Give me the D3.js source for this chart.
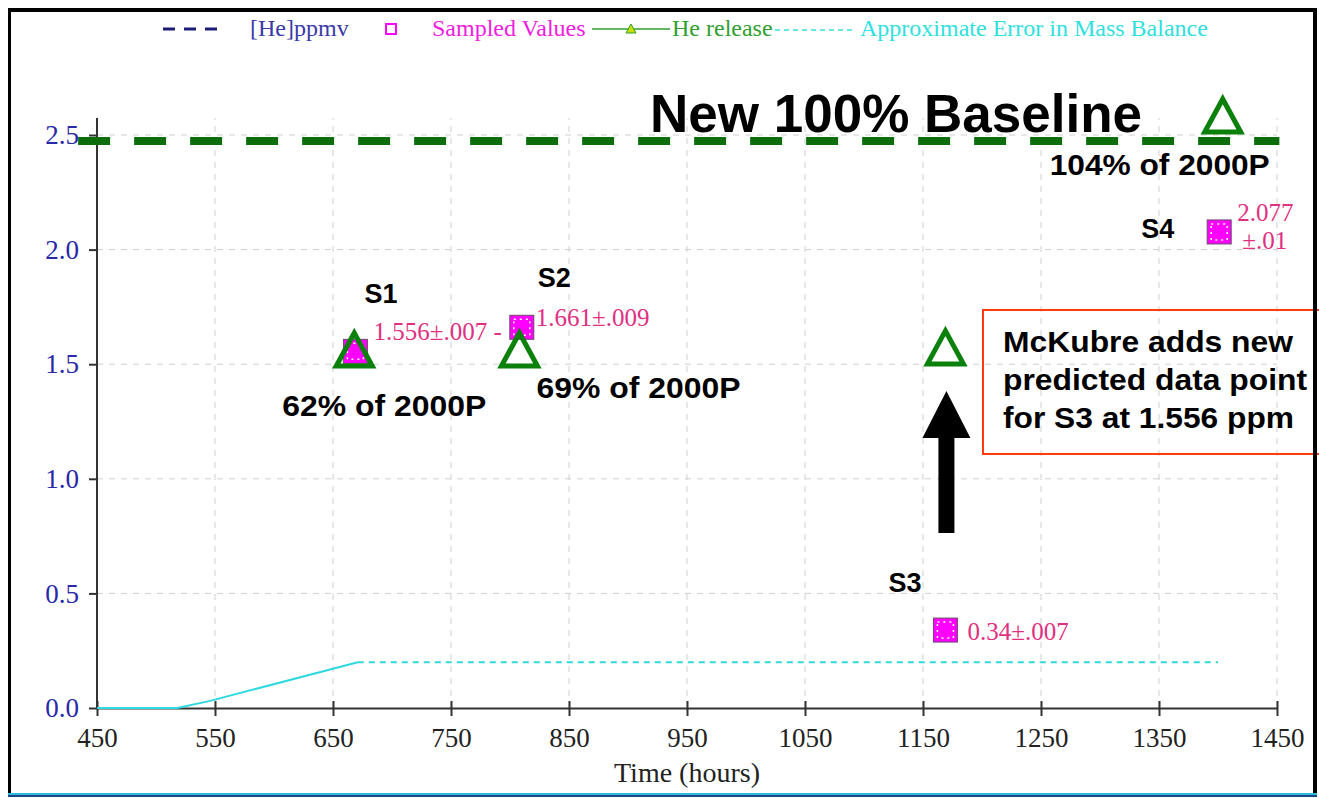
<!DOCTYPE html>
<html><head><meta charset="utf-8">
<script src="https://cdn.jsdelivr.net/npm/d3@7"></script>
<style>body{margin:0;background:#fff;} svg{display:block;}</style>
</head><body>
<svg id="chart" width="1319" height="798"></svg>
<script>
// ---------- data ----------
const xTicks = [450,550,650,750,850,950,1050,1150,1250,1350,1450];
const yTicks = [0,0.5,1.0,1.5,2.0,2.5];
const sampleNames = ["S1","S2","S3","S4"];
const sampleTimes = [669, 810, 1169, 1401];
const sampleValues = [1.556, 1.661, 0.34, 2.077];
const sampleLabels = [["1.556±.007 -"],["1.661±.009"],["0.34±.007"],["2.077","±.01"]];
const releaseTimes = [668, 808, 1169, 1404];
const releaseValues = [1.562, 1.562, 1.571, 2.583];
const releasePercents = ["62% of 2000P","69% of 2000P","","104% of 2000P"];
const errorTimes = [450, 518, 545, 671];
const errorValues = [0, 0, 0.03, 0.2];
const errorDashedTimes = [671, 1400];
const errorDashedValues = [0.2, 0.2];
const baselineValue = 2.474;
const baselineTimes = [434, 1452];
const legendLabels = ["[He]ppmv","Sampled Values","He release","Approximate Error in Mass Balance"];
const xTitle = "Time (hours)";
const baselineTitle = "New 100% Baseline";
const noteLines = ["McKubre adds new","predicted data point","for S3 at 1.556 ppm"];

// ---------- layout ----------
const svg = d3.select("#chart");
const x = d3.scaleLinear().domain([450,1450]).range([97,1277]);
const y = d3.scaleLinear().domain([0,2.5]).range([708,135]);
const serif = "'Liberation Serif','Times New Roman',serif";
const sans = "'Liberation Sans',Arial,sans-serif";

svg.append("rect").attr("width",1319).attr("height",798).attr("fill","#fff");

// grid
const grid = svg.append("g").attr("stroke","#cfcfcf").attr("stroke-width",1).attr("stroke-dasharray","6,6");
grid.selectAll("line.v").data(xTicks.slice(1)).enter().append("line")
  .attr("x1",d=>x(d)).attr("x2",d=>x(d)).attr("y1",y(0)).attr("y2",118);
grid.selectAll("line.h").data(yTicks.slice(1)).enter().append("line")
  .attr("x1",x(450)).attr("x2",x(1450)).attr("y1",d=>y(d)).attr("y2",d=>y(d));

// axes
const xAxis = d3.axisBottom(x).tickValues(xTicks).tickFormat(d3.format("d")).tickSize(8).tickSizeOuter(0).tickPadding(12);
const gx = svg.append("g").attr("transform",`translate(0,${y(0)})`).call(xAxis);
gx.select(".domain").attr("stroke","#333").attr("stroke-width",2);
gx.selectAll(".tick line").attr("stroke","#333").attr("stroke-width",2).attr("y1",-7);
gx.selectAll(".tick text").attr("font-family",serif).attr("font-size",27).attr("fill","#222");

const yAxis = d3.axisLeft(y).tickValues(yTicks).tickFormat(d3.format(".1f")).tickSize(8).tickSizeOuter(0).tickPadding(10);
const gy = svg.append("g").attr("transform",`translate(${x(450)},0)`).call(yAxis);
gy.select(".domain").remove();
gy.append("line").attr("x1",0).attr("x2",0).attr("y1",118).attr("y2",y(0)).attr("stroke","#333").attr("stroke-width",2);
gy.selectAll(".tick line").attr("stroke","#333").attr("stroke-width",2);
gy.selectAll(".tick text").attr("font-family",serif).attr("font-size",27).attr("fill","#2828a8");

svg.append("text").attr("x",(x(450)+x(1450))/2).attr("y",782).attr("text-anchor","middle")
  .attr("font-family",serif).attr("font-size",28).attr("fill","#222").text(xTitle);

// error in mass balance
const line = d3.line().x(d=>x(d[0])).y(d=>y(d[1]));
svg.append("path").datum(d3.zip(errorTimes,errorValues)).attr("d",line)
  .attr("fill","none").attr("stroke","#30d8e0").attr("stroke-width",2);
svg.append("path").datum(d3.zip(errorDashedTimes,errorDashedValues)).attr("d",line)
  .attr("fill","none").attr("stroke","#30d8e0").attr("stroke-width",2).attr("stroke-dasharray","6,5");

// baseline
svg.append("line").attr("x1",x(baselineTimes[0])).attr("x2",x(baselineTimes[1]))
  .attr("y1",y(baselineValue)).attr("y2",y(baselineValue))
  .attr("stroke","#0b6e0b").attr("stroke-width",8).attr("stroke-dasharray","32,24");
svg.append("text").attr("x",650).attr("y",132).attr("font-family",sans).attr("font-weight","bold")
  .attr("font-size",53).attr("fill","#000").text(baselineTitle);

// sampled values
const samples = sampleTimes.map((t,i)=>({t, v:sampleValues[i], name:sampleNames[i], lab:sampleLabels[i]}));
const sq = svg.append("g").selectAll("g").data(samples).enter().append("g")
  .attr("transform",d=>`translate(${x(d.t)},${y(d.v)})`);
sq.append("rect").attr("x",-12).attr("y",-12).attr("width",24).attr("height",24)
  .attr("fill","#ff00ff").attr("stroke","#6a4a6a").attr("stroke-width",1);
sq.append("rect").attr("x",-8).attr("y",-8).attr("width",16).attr("height",16)
  .attr("fill","none").attr("stroke","#fff").attr("stroke-width",1.5).attr("stroke-dasharray","2,4");

const labOff = [[18,-20],[14,-10],[22,1],[18,-20]];
const lab2Off = [0,0,0,[23,8]];
sq.each(function(d,i){
  const g = d3.select(this);
  g.append("text").attr("x",labOff[i][0]).attr("y",labOff[i][1]).attr("dy","0.35em")
    .attr("font-family",serif).attr("font-size",25).attr("fill","#e0307f").text(d.lab[0]);
  if (d.lab[1]) g.append("text").attr("x",lab2Off[i][0]).attr("y",lab2Off[i][1]).attr("dy","0.35em")
    .attr("font-family",serif).attr("font-size",25).attr("fill","#e0307f").text(d.lab[1]);
});
const nameOff = [[9,-48],[16,-40],[-57,-38],[-78,6]];
sq.append("text").attr("x",(d,i)=>nameOff[i][0]).attr("y",(d,i)=>nameOff[i][1])
  .attr("font-family",sans).attr("font-weight","bold").attr("font-size",27).attr("fill","#000").text(d=>d.name);

// He release triangles
const rel = releaseTimes.map((t,i)=>({t, v:releaseValues[i], p:releasePercents[i]}));
const tri = svg.append("g").selectAll("g").data(rel).enter().append("g")
  .attr("transform",d=>`translate(${x(d.t)},${y(d.v)})`);
tri.append("path").attr("d","M0,-17L18,16L-18,16Z").attr("fill","none")
  .attr("stroke","#0b800b").attr("stroke-width",5).attr("stroke-linejoin","miter");
const pOff = [[-72,66],[17,48],[0,0],[-173,59]];
const pLen = [204,204,0,220];
tri.filter(d=>d.p).append("text").attr("x",(d)=>pOff[rel.indexOf(d)][0]).attr("y",(d)=>pOff[rel.indexOf(d)][1])
  .attr("textLength",d=>pLen[rel.indexOf(d)]).attr("lengthAdjust","spacingAndGlyphs")
  .attr("font-family",sans).attr("font-weight","bold").attr("font-size",30).attr("fill","#000").text(d=>d.p);

// arrow under S3 prediction
const ax = x(releaseTimes[2]) + 1;
svg.append("path").attr("d",`M${ax-8},533L${ax-8},438L${ax-24},438L${ax},391L${ax+24},438L${ax+8},438L${ax+8},533Z`)
  .attr("fill","#000");

// note box
svg.append("rect").attr("x",983).attr("y",310).attr("width",345).attr("height",144)
  .attr("fill","none").attr("stroke","#ff3a10").attr("stroke-width",2);
const noteLen = [290,304,291];
svg.append("g").selectAll("text").data(noteLines).enter().append("text")
  .attr("x",1003).attr("y",(d,i)=>352+i*38).attr("font-family",sans).attr("font-weight","bold")
  .attr("textLength",(d,i)=>noteLen[i]).attr("lengthAdjust","spacingAndGlyphs")
  .attr("font-size",30).attr("fill","#000").text(d=>d);

// legend
const lg = svg.append("g").attr("font-family",serif).attr("font-size",24);
lg.append("line").attr("x1",163).attr("x2",220).attr("y1",29).attr("y2",29)
  .attr("stroke","#1c1c78").attr("stroke-width",3).attr("stroke-dasharray","12,9");
lg.append("text").attr("x",250).attr("y",36).attr("fill","#3a3aa8").text(legendLabels[0]);
lg.append("rect").attr("x",386).attr("y",24).attr("width",10).attr("height",10)
  .attr("fill","none").attr("stroke","#ff00ff").attr("stroke-width",2);
lg.append("text").attr("x",432).attr("y",36).attr("fill","#f020e0").text(legendLabels[1]);
lg.append("line").attr("x1",592).attr("x2",670).attr("y1",29).attr("y2",29).attr("stroke","#30a030").attr("stroke-width",1.5);
lg.append("path").attr("d","M631,24L636,33L626,33Z").attr("fill","#c8e000").attr("stroke","#30a030").attr("stroke-width",1);
lg.append("text").attr("x",672).attr("y",36).attr("fill","#30a030").text(legendLabels[2]);
lg.append("line").attr("x1",775).attr("x2",855).attr("y1",30).attr("y2",30)
  .attr("stroke","#30e0e0").attr("stroke-width",1.5).attr("stroke-dasharray","5,4");
lg.append("text").attr("x",860).attr("y",36).attr("fill","#30e0e0").text(legendLabels[3]);

// frame
svg.append("rect").attr("x",8).attr("y",8).attr("width",1306).attr("height",4).attr("fill","#000");
svg.append("rect").attr("x",8).attr("y",8).attr("width",3).attr("height",788).attr("fill","#000");
svg.append("rect").attr("x",1313).attr("y",8).attr("width",4).attr("height",788).attr("fill","#000");
svg.append("rect").attr("x",8).attr("y",793).attr("width",1309).attr("height",2).attr("fill","#30b8e0");
svg.append("rect").attr("x",8).attr("y",795).attr("width",1309).attr("height",2).attr("fill","#1a4a80");
</script>
</body></html>
